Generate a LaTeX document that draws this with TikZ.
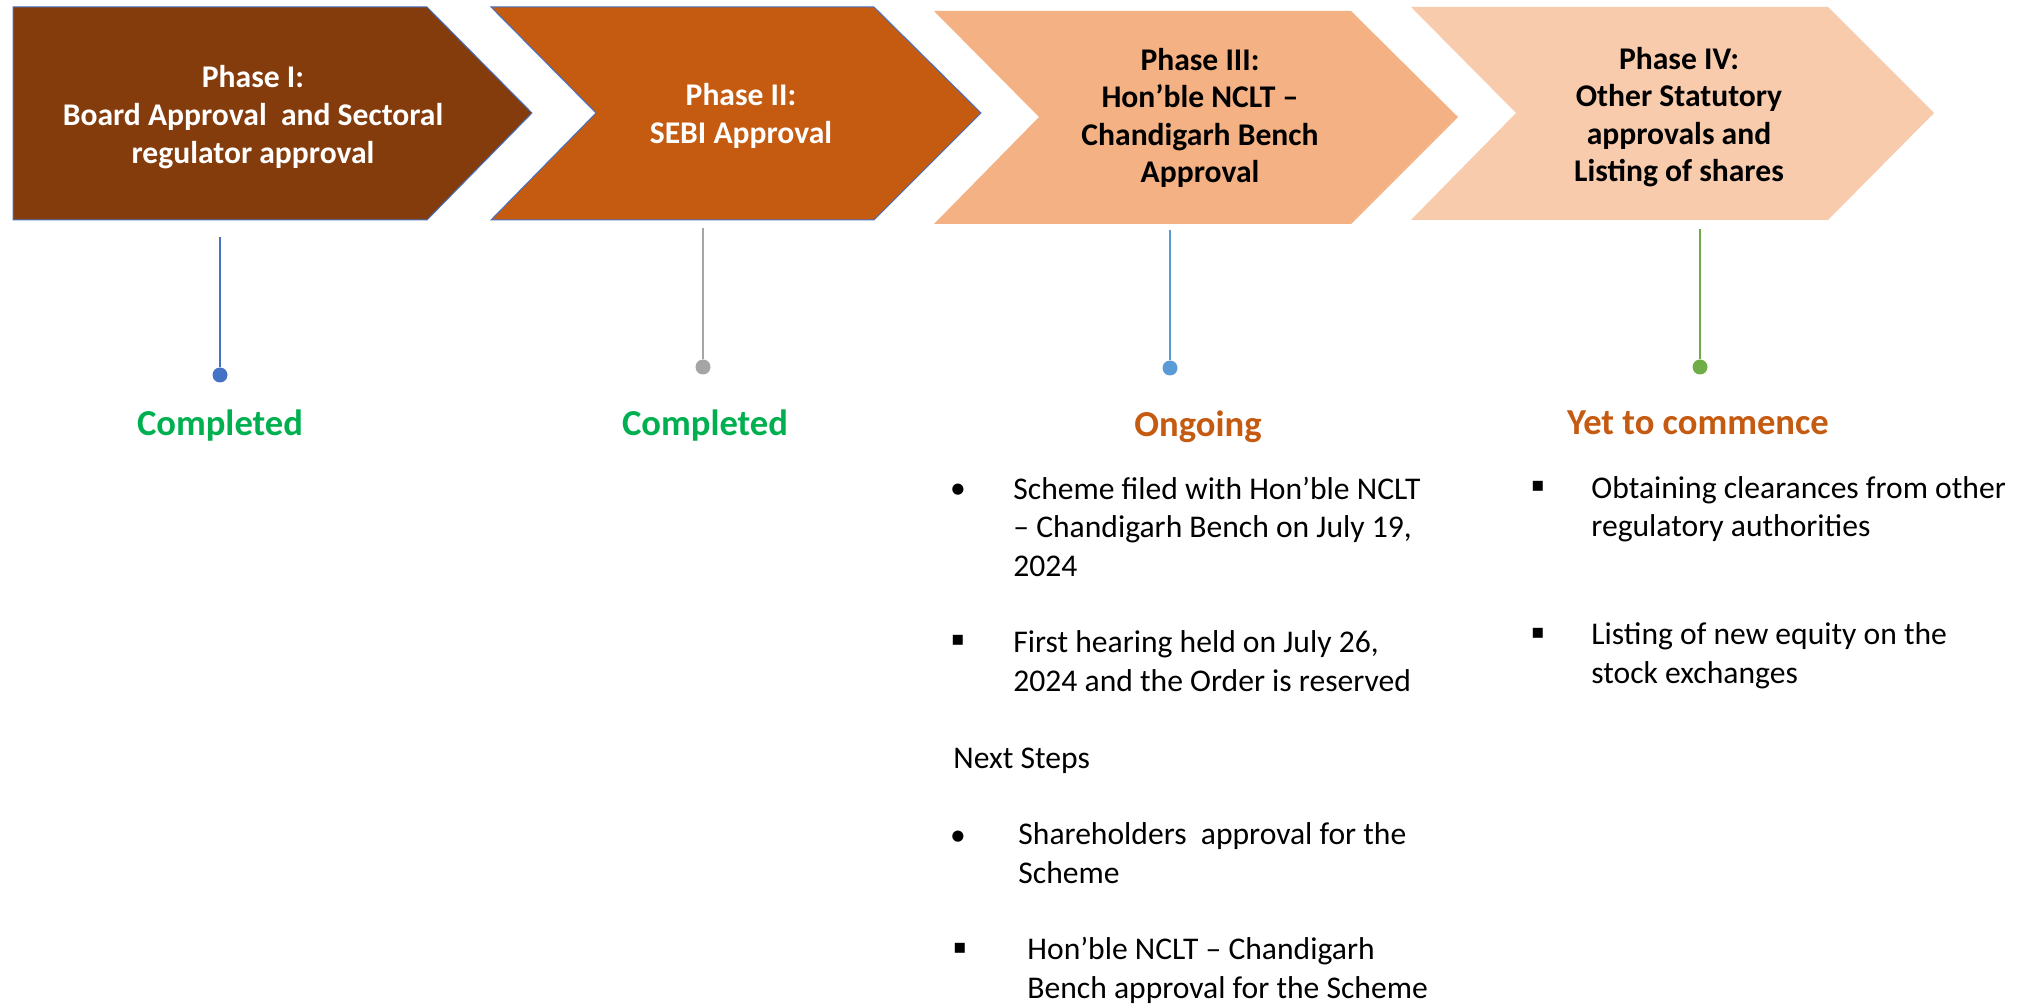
\documentclass[tikz,border=0pt]{standalone}
\usepackage{fontspec}
\setmainfont{Carlito}
\newfontfamily\squarefont{DejaVu Sans}
\usetikzlibrary{positioning}

\definecolor{phaseone}{HTML}{843C0C}
\definecolor{phasetwo}{HTML}{C55A11}
\definecolor{phasethree}{HTML}{F4B183}
\definecolor{phasefour}{HTML}{F8CBAD}
\definecolor{edgeblue}{HTML}{4472C4}
\definecolor{stemone}{HTML}{4472C4}
\definecolor{stemtwo}{HTML}{A5A5A5}
\definecolor{stemthree}{HTML}{5B9BD5}
\definecolor{stemfour}{HTML}{70AD47}
\definecolor{donegreen}{HTML}{00B050}
\definecolor{pendorange}{HTML}{C55A11}

\begin{document}
\begin{tikzpicture}[x=0.5pt,y=-0.5pt]
        \tikzstyle{every node}=[inner sep=0pt]
        \tikzstyle{phasetext}=[font=\fontsize{15.8}{18.8}\selectfont\bfseries, align=center]
        \tikzstyle{status}=[font=\fontsize{18.3}{22}\selectfont\bfseries, anchor=base]
        \tikzstyle{detail}=[font=\fontsize{15.8}{19.25}\selectfont, anchor=base west, align=left]
        \tikzstyle{bulletmark}=[font=\fontsize{15.8}{19.25}\selectfont, anchor=base]
        \tikzstyle{squaremark}=[font=\fontsize{10}{12}\squarefont, anchor=base]
        \tikzstyle{stem}=[line width=1pt]
        \tikzstyle{stemdot}=[circle, minimum size=7.5pt]

        \useasboundingbox (0,0) rectangle (2030,1005);

        \filldraw[fill=phaseone, draw=edgeblue, line width=0.5pt] (13,7) -- (427,7) -- (532,113) -- (427,220) -- (13,220) -- cycle;
        \filldraw[fill=phasetwo, draw=edgeblue, line width=0.5pt] (491,7) -- (874,7) -- (981,113) -- (874,220) -- (491,220) -- (596,113) -- cycle;
        \fill[phasethree] (934,11) -- (1351,11) -- (1458,117) -- (1351,224) -- (934,224) -- (1039,117) -- cycle;
        \fill[phasefour] (1411,7) -- (1828,7) -- (1934,113) -- (1828,220) -- (1411,220) -- (1516,113) -- cycle;

        \node[phasetext, text=white] (ph1) at (253,117) {Phase I:\\Board Approval\ \ and Sectoral\\regulator approval};
        \node[phasetext, text=white] (ph2) at (741,116) {Phase II:\\SEBI Approval};
        \node[phasetext] (ph3) at (1200,118) {Phase III:\\Hon’ble NCLT –\\Chandigarh Bench\\Approval};
        \node[phasetext] (ph4) at (1679,117) {Phase IV:\\Other Statutory\\approvals and\\Listing of shares};

        \coordinate (top1) at (220,237);
        \coordinate (top2) at (703,228);
        \coordinate (top3) at (1170,230);
        \coordinate (top4) at (1700,229);
        \node[stemdot, fill=stemone] (dot1) at (220,375) {};
        \node[stemdot, fill=stemtwo] (dot2) at (703,367) {};
        \node[stemdot, fill=stemthree] (dot3) at (1170,368) {};
        \node[stemdot, fill=stemfour] (dot4) at (1700,367) {};
        \draw[stem, stemone] (top1) -- (dot1);
        \draw[stem, stemtwo] (top2) -- (dot2);
        \draw[stem, stemthree] (top3) -- (dot3);
        \draw[stem, stemfour] (top4) -- (dot4);

        \node[status, text=donegreen] (st1) at (220,436) {Completed};
        \node[status, text=donegreen] (st2) at (705,436) {Completed};
        \node[status, text=pendorange] (st3) at (1198,437) {Ongoing};
        \node[status, text=pendorange] (st4) at (1698,435) {Yet to commence};

        \node[bulletmark] (b1) at (958,499) {•};
        \node[detail] (d1) at (1013,576) {Scheme filed with Hon’ble NCLT\\– Chandigarh Bench on July 19,\\2024};
        \node[squaremark] (b2) at (958,645) {▪};
        \node[detail] (d2) at (1013,691) {First hearing held on July 26,\\2024 and the Order is reserved};
        \node[detail] (next) at (953,768) {Next Steps};
        \node[bulletmark] (b3) at (958,845) {•};
        \node[detail] (d3) at (1018,883) {Shareholders\ \ approval for the\\Scheme};
        \node[squaremark] (b4) at (960,953) {▪};
        \node[detail] (d4) at (1027,998) {Hon’ble NCLT – Chandigarh\\Bench approval for the Scheme};

        \node[squaremark] (c1) at (1538,492) {▪};
        \node[detail] (e1) at (1591,537) {Obtaining clearances from other\\regulatory authorities};
        \node[squaremark] (c2) at (1538,638) {▪};
        \node[detail] (e2) at (1591,683) {Listing of new equity on the\\stock exchanges};
\end{tikzpicture}
\end{document}
